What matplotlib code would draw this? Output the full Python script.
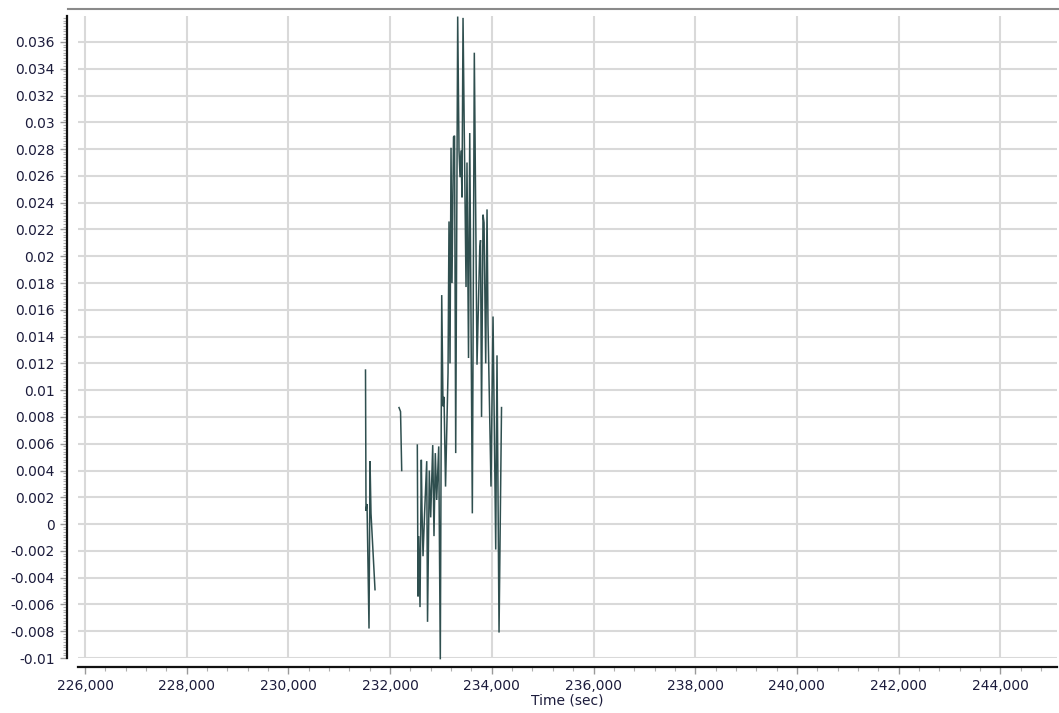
import numpy as np
import matplotlib
matplotlib.use("Agg")
import matplotlib.pyplot as plt
from matplotlib.ticker import MultipleLocator, FuncFormatter
from matplotlib.lines import Line2D

nan = np.nan
# Time (sec) and value, NaN = gap in the record
time_sec = [
    231516, 231526, 231546, 231585, 231605, 231624, 231703,
    nan,
    232175, 232205, 232228,
    nan,
    232535, 232549, 232563, 232588, 232614, 232627, 232647, 232680, 232720, 232736,
    232771, 232798, 232838, 232863, 232889, 232916, 232956, 232987, 233015, 233040,
    233060, 233090, 233139, 233158, 233178, 233198, 233217, 233247, 233267, 233290,
    233329, 233355, 233375, 233394, 233414, 233434, 233463, 233493, 233512, 233542,
    233566, 233617, 233656, 233709, 233762, 233778, 233798, 233827, 233847, 233880,
    233906, 233925, 233984, 234024, 234077, 234102, 234142, 234191,
]
values = [
    0.0115, 0.0010, 0.0015, -0.0078, 0.0047, 0.0008, -0.0049,
    nan,
    0.0087, 0.0084, 0.0040,
    nan,
    0.0059, -0.0054, -0.0009, -0.0062, 0.0048, 0.0010, -0.0024, 0.0010, 0.0047, -0.0073,
    0.0040, 0.0005, 0.0059, -0.0009, 0.0053, 0.0018, 0.0058, -0.0101, 0.0171, 0.0088,
    0.0095, 0.0028, 0.0113, 0.0226, 0.0120, 0.0281, 0.0180, 0.0289, 0.0290, 0.0053,
    0.0379, 0.0279, 0.0259, 0.0279, 0.0244, 0.0378, 0.0277, 0.0177, 0.0270, 0.0124,
    0.0292, 0.0008, 0.0352, 0.0119, 0.0205, 0.0212, 0.0080, 0.0231, 0.0225, 0.0120,
    0.0235, 0.0149, 0.0028, 0.0155, -0.0019, 0.0126, -0.0081, 0.0087,
]

x_label = "Time (sec)"

W, H = 1059, 713
fig = plt.figure(figsize=(W / 100, H / 100), dpi=100)
ax = fig.add_axes([78 / W, (H - 658) / H, (1057 - 78) / W, (658 - 16) / H])

ax.plot(time_sec, values, color="#2f4f4f", lw=1.1, solid_joinstyle="miter",
        clip_on=False)

ax.set_xlim(225862, 245115)
ax.set_ylim(-0.0100, 0.03794)

ax.xaxis.set_major_locator(MultipleLocator(2000))
ax.xaxis.set_minor_locator(MultipleLocator(400))
ax.yaxis.set_major_locator(MultipleLocator(0.002))
ax.yaxis.set_minor_locator(MultipleLocator(0.0002))

ax.xaxis.set_major_formatter(FuncFormatter(lambda v, p: f"{v:,.0f}"))

def yfmt(v, p):
    s = f"{v:.3f}".rstrip("0").rstrip(".")
    if s in ("-0", ""):
        s = "0"
    return s
ax.yaxis.set_major_formatter(FuncFormatter(yfmt))

ax.grid(True, which="major", color="#d9d9d9", lw=1.5)
ax.set_axisbelow(True)

lab_color = "#1c1c3c"
ax.tick_params(axis="both", which="major", length=5, width=1, color="#9a9a9a",
               labelsize=10, labelcolor=lab_color, direction="out")
ax.tick_params(axis="both", which="minor", length=3, width=0.8, color="#b0b0b0",
               direction="out")
ax.tick_params(axis="x", pad=4)
ax.tick_params(axis="y", pad=4)

for s in ("left", "bottom"):
    ax.spines[s].set_color("#111111")
    ax.spines[s].set_linewidth(1.6)
ax.spines["left"].set_position(("outward", 11 * 0.72))
ax.spines["bottom"].set_position(("outward", 9 * 0.72))
ax.spines["top"].set_visible(False)
ax.spines["right"].set_visible(False)

# gray top frame line
fig.add_artist(Line2D([68 / W, 1.0], [(H - 9) / H, (H - 9) / H],
                      transform=fig.transFigure, color="#8a8a8a", lw=1.5))

ax.set_xlabel(x_label, fontsize=10, color=lab_color, labelpad=0)

fig.savefig("out.png", dpi=100)
